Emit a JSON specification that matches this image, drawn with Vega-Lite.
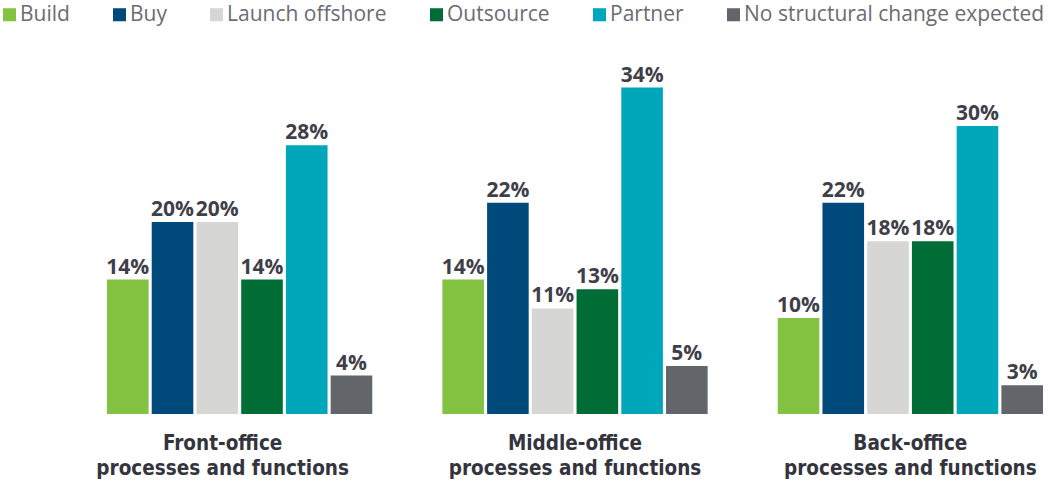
{
  "$schema": "https://vega.github.io/schema/vega-lite/v6.json",
  "width": 936,
  "height": 384,
  "autosize": {"type": "none"},
  "padding": {"left": 107, "top": 30, "right": 7, "bottom": 70},
  "background": "white",
  "config": {"view": {"stroke": null}, "font": "Open Sans"},
  "data": {
    "values": [
      {"group": "Front-office|processes and functions", "series": "Build", "value": 0.14},
      {"group": "Front-office|processes and functions", "series": "Buy", "value": 0.20},
      {"group": "Front-office|processes and functions", "series": "Launch offshore", "value": 0.20},
      {"group": "Front-office|processes and functions", "series": "Outsource", "value": 0.14},
      {"group": "Front-office|processes and functions", "series": "Partner", "value": 0.28},
      {"group": "Front-office|processes and functions", "series": "No structural change expected", "value": 0.04},
      {"group": "Middle-office|processes and functions", "series": "Build", "value": 0.14},
      {"group": "Middle-office|processes and functions", "series": "Buy", "value": 0.22},
      {"group": "Middle-office|processes and functions", "series": "Launch offshore", "value": 0.11},
      {"group": "Middle-office|processes and functions", "series": "Outsource", "value": 0.13},
      {"group": "Middle-office|processes and functions", "series": "Partner", "value": 0.34},
      {"group": "Middle-office|processes and functions", "series": "No structural change expected", "value": 0.05},
      {"group": "Back-office|processes and functions", "series": "Build", "value": 0.10},
      {"group": "Back-office|processes and functions", "series": "Buy", "value": 0.22},
      {"group": "Back-office|processes and functions", "series": "Launch offshore", "value": 0.18},
      {"group": "Back-office|processes and functions", "series": "Outsource", "value": 0.18},
      {"group": "Back-office|processes and functions", "series": "Partner", "value": 0.30},
      {"group": "Back-office|processes and functions", "series": "No structural change expected", "value": 0.03}
    ]
  },
  "encoding": {
    "x": {
      "field": "group",
      "type": "nominal",
      "sort": null,
      "scale": {"paddingInner": 0.209, "paddingOuter": 0},
      "axis": {
        "title": null,
        "domain": false,
        "ticks": false,
        "labelAngle": 0,
        "labelExpr": "split(datum.label, '|')",
        "labelFont": "Liberation Sans Narrow, DejaVu Sans Condensed, sans-serif",
        "labelFontWeight": "bold",
        "labelFontSize": 20.5,
        "labelColor": "#33343d",
        "labelBaseline": "alphabetic",
        "labelPadding": 35,
        "labelLineHeight": 25,
        "labelLimit": 400,
        "labelOffset": {"condition": {"test": "indexof(datum.label, 'Front') == 0", "value": -17}, "value": 0}
      }
    },
    "xOffset": {
      "field": "series",
      "type": "nominal",
      "sort": ["Build", "Buy", "Launch offshore", "Outsource", "Partner", "No structural change expected"],
      "scale": {"paddingInner": 0.07, "paddingOuter": 0}
    },
    "y": {
      "field": "value",
      "type": "quantitative",
      "scale": {"domain": [0, 0.4], "nice": false},
      "axis": null
    }
  },
  "layer": [
    {
      "mark": {"type": "bar"},
      "encoding": {
        "color": {
          "field": "series",
          "type": "nominal",
          "sort": ["Build", "Buy", "Launch offshore", "Outsource", "Partner", "No structural change expected"],
          "scale": {
            "domain": ["Build", "Buy", "Launch offshore", "Outsource", "Partner", "No structural change expected"],
            "range": ["#84c341", "#00497b", "#d6d6d4", "#006d36", "#00a6b9", "#62656a"]
          },
          "legend": {
            "title": null,
            "orient": "none",
            "direction": "horizontal",
            "columns": 6,
            "legendX": -108,
            "legendY": -26,
            "padding": 0,
            "symbolType": "square",
            "symbolSize": 170,
            "symbolStrokeWidth": 0,
            "symbolOpacity": 1,
            "labelFont": "Open Sans",
            "labelFontSize": 21,
            "labelColor": "#6b6c72",
            "labelOffset": 0,
            "columnPadding": 39,
            "labelLimit": 400
          }
        }
      }
    },
    {
      "mark": {
        "type": "text",
        "baseline": "alphabetic",
        "dy": -6,
        "font": "Open Sans",
        "fontSize": 21,
        "fontWeight": "bold",
        "color": "#3f3f4a"
      },
      "encoding": {
        "text": {"field": "value", "type": "quantitative", "format": ".0%"},
        "color": {"value": "#3f3f4a"}
      }
    }
  ]
}
